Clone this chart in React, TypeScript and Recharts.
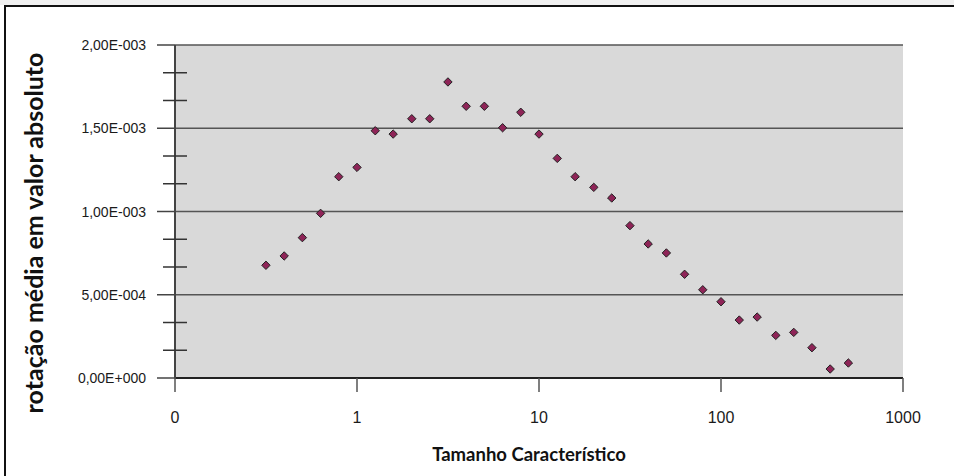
import React from "react";
import { ScatterChart, Scatter, XAxis, YAxis, CartesianGrid, ReferenceLine } from "recharts";

// tamanho característico (log scale)
const sizes = [
  0.316, 0.398, 0.501, 0.631, 0.794, 1, 1.26, 1.58, 2, 2.51, 3.16, 3.98, 5.01, 6.31, 7.94,
  10, 12.6, 15.8, 20, 25.1, 31.6, 39.8, 50.1, 63.1, 79.4, 100, 126, 158, 200, 251, 316, 398, 501,
];

// rotação média em valor absoluto
const rotations = [
  0.000677, 0.000733, 0.000843, 0.000989, 0.001209, 0.001265, 0.001485, 0.001465, 0.001557,
  0.001557, 0.001778, 0.001632, 0.001632, 0.001503, 0.001596, 0.001465, 0.001319, 0.001209,
  0.001145, 0.001081, 0.000915, 0.000805, 0.000751, 0.000623, 0.00053, 0.000458, 0.000348,
  0.000366, 0.000256, 0.000274, 0.000182, 0.000054, 0.00009,
];

const xTicks = [0.1, 1, 10, 100, 1000];
const xTickLabels = ["0", "1", "10", "100", "1000"];
const yTicks = [0, 0.0005, 0.001, 0.0015, 0.002];
const yMinorTicks = [
  0.0001667, 0.0003333, 0.0006667, 0.0008333, 0.0011667, 0.0013333, 0.0016667, 0.0018333,
];

const data = sizes.map((s, i) => ({ x: s, y: rotations[i] }));

const Y_TICK_SIZE = 18;
const Y_TICK_MARGIN = 11;

const fmtSci = (v: number) => {
  if (v === 0) return "0,00E+000";
  let e = Math.floor(Math.log10(Math.abs(v)));
  let m = v / Math.pow(10, e);
  if (Number(m.toFixed(2)) >= 10) {
    m = m / 10;
    e += 1;
  }
  const sign = e < 0 ? "-" : "+";
  return `${m.toFixed(2).replace(".", ",")}E${sign}${String(Math.abs(e)).padStart(3, "0")}`;
};

const YTick = (props: any) => {
  const { x, y, payload } = props;
  const axisX = x + Y_TICK_SIZE + Y_TICK_MARGIN;
  const isMajor = yTicks.some((t) => Math.abs(t - payload.value) < 1e-9);
  if (!isMajor) {
    return <line x1={axisX - 12} x2={axisX + 12} y1={y} y2={y} stroke="#333" strokeWidth={1.5} />;
  }
  return (
    <g>
      <line x1={axisX - Y_TICK_SIZE} x2={axisX} y1={y} y2={y} stroke="#444" strokeWidth={1.5} />
      <text
        x={x}
        y={y}
        textAnchor="end"
        dominantBaseline="central"
        fontFamily="'Liberation Sans', Arial, sans-serif"
        fontSize={14}
        fill="#1a1a1a"
      >
        {fmtSci(payload.value)}
      </text>
    </g>
  );
};

const Diamond = (props: any) => {
  const { cx, cy } = props;
  const r = 4.2;
  return (
    <path
      d={`M${cx},${cy - r}L${cx + r},${cy}L${cx},${cy + r}L${cx - r},${cy}Z`}
      fill="#8e2457"
      stroke="#222"
      strokeWidth={1}
    />
  );
};

export default function App() {
  return (
    <div style={{ position: "fixed", left: 0, top: 0, width: 954, height: 476, background: "#fff" }}>
      <ScatterChart width={954} height={476} margin={{ top: 45, right: 51, left: 0, bottom: 0 }}>
        <CartesianGrid fill="#d9d9d9" horizontal={false} vertical={false} stroke="none" />
        {yTicks.map((t) => (
          <ReferenceLine key={t} y={t} stroke="#555" strokeWidth={1.5} ifOverflow="extendDomain" />
        ))}
        <XAxis
          type="number"
          dataKey="x"
          scale="log"
          domain={[0.1, 1000]}
          ticks={xTicks}
          allowDataOverflow
          height={98}
          tickSize={14}
          tickMargin={20}
          tickFormatter={(v: number) => xTickLabels[xTicks.indexOf(v)] ?? String(v)}
          tick={{ fontFamily: "'Liberation Sans', Arial, sans-serif", fontSize: 16, fill: "#1a1a1a" }}
          tickLine={{ stroke: "#555", strokeWidth: 1.5 }}
          axisLine={{ stroke: "#222", strokeWidth: 2 }}
          label={{
            content: () => (
              <text
                x={529}
                y={454}
                textAnchor="middle"
                dominantBaseline="central"
                fontFamily="Lato, 'Open Sans', sans-serif"
                fontWeight="bold"
                fontSize={18.5}
                fill="#111"
              >
                Tamanho Característico
              </text>
            ),
          }}
        />
        <YAxis
          type="number"
          dataKey="y"
          domain={[0, 0.002]}
          ticks={[...yTicks, ...yMinorTicks].sort((a, b) => a - b)}
          allowDataOverflow
          width={175}
          tickSize={Y_TICK_SIZE}
          tickMargin={Y_TICK_MARGIN}
          tickLine={false}
          tick={<YTick />}
          axisLine={{ stroke: "#444", strokeWidth: 2 }}
          label={{
            content: () => (
              <text
                x={33}
                y={233}
                transform="rotate(-90 33 233)"
                textAnchor="middle"
                dominantBaseline="central"
                fontFamily="Lato, 'Open Sans', sans-serif"
                fontWeight="bold"
                fontSize={25}
                fill="#111"
              >
                rotação média em valor absoluto
              </text>
            ),
          }}
        />
        <Scatter data={data} shape={<Diamond />} isAnimationActive={false} />
      </ScatterChart>
      {/* outer frame of the original screenshot */}
      <div
        style={{
          position: "absolute",
          left: 0,
          top: 0,
          width: 954,
          height: 5,
          background: "#f0f0f0",
          pointerEvents: "none",
        }}
      />
      <div
        style={{
          position: "absolute",
          left: 4,
          top: 5,
          width: 950,
          height: 471,
          boxSizing: "border-box",
          borderTop: "2px solid #111",
          borderLeft: "2px solid #111",
          pointerEvents: "none",
        }}
      />
    </div>
  );
}
